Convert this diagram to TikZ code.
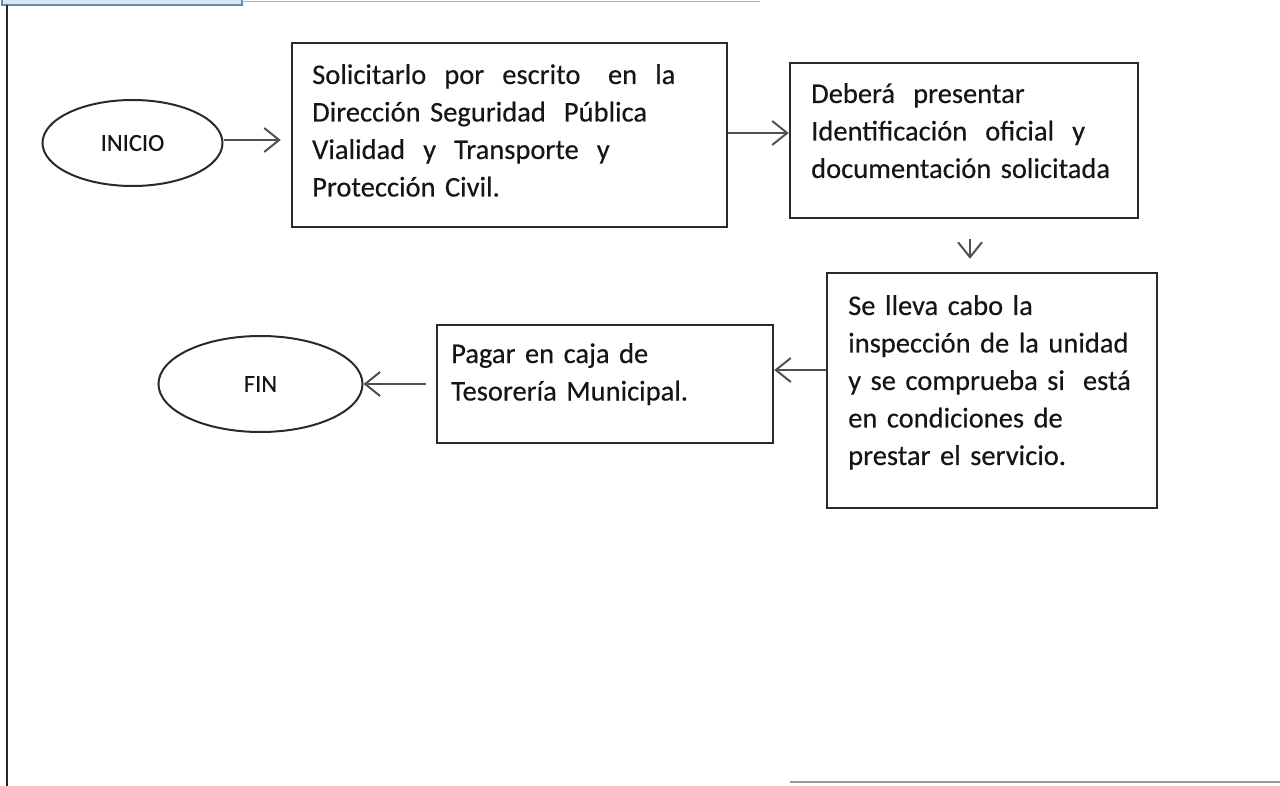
\documentclass[tikz,border=0pt]{standalone}
\usepackage{fontspec}
\setmainfont{Carlito}
\newfontfamily\scanfont{Carlito}[FakeBold=0.35]
\usetikzlibrary{arrows.meta,shapes.geometric}
\definecolor{boxline}{HTML}{2A2A2A}
\definecolor{arrline}{HTML}{505050}
\definecolor{txt}{HTML}{151515}
\definecolor{tabfill}{HTML}{D6E7F3}
\definecolor{tabline}{HTML}{6D8AA0}
\newcommand{\gapw}{\hspace{0.3em}}
\tikzset{
  stepbox/.style={draw=boxline, line width=2.4pt, rectangle, inner sep=0pt},
  termnode/.style={draw=boxline, line width=2pt, ellipse, inner sep=0pt, text=txt, font=\scanfont\fontsize{24.5}{28}\selectfont},
  boxtext/.style={anchor=base west, inner sep=0pt, text width=420pt, align=left, text=txt, font=\scanfont\fontsize{28.5}{37.5}\selectfont},
  arr/.style={draw=arrline, line width=2pt, -{Straight Barb[length=15pt, width=24pt, line width=2pt]}},
}
\begin{document}
\begin{tikzpicture}[x=1pt, y=-1pt]
\useasboundingbox (0,0) rectangle (1280,786);
% frame
\draw[fill=tabfill, draw=tabline, line width=1.5pt] (2,-6) rectangle (242,5);
\draw[draw=gray!60, line width=1.5pt] (242,1.5) -- (760,1.5);
\draw[draw=black!85, line width=2.5pt] (7,5) -- (7,786);
\draw[draw=gray!80, line width=2pt] (790,782) -- (1280,782);
% nodes
\node[termnode, minimum width=180pt, minimum height=86pt] (inicio) at (132.5,143) {INICIO};
\node[termnode, minimum width=204pt, minimum height=96pt] (fin) at (260.5,384) {FIN};
\node[stepbox, minimum width=435pt, minimum height=184pt] (b1) at (509.5,135) {};
\node[stepbox, minimum width=348pt, minimum height=155pt] (b2) at (964,140.5) {};
\node[stepbox, minimum width=330pt, minimum height=235pt] (b3) at (992,390.5) {};
\node[stepbox, minimum width=336pt, minimum height=118pt] (b4) at (605,384) {};
\node[boxtext] (t1) at (312,84) {Solicitarlo\ \gapw por\ \gapw escrito\ \ \gapw en\ \gapw la\\Dirección Seguridad\ \gapw Pública\\Vialidad\ \gapw y\ \gapw Transporte\ \gapw y\\Protección Civil.};
\node[boxtext] (t2) at (811,103) {Deberá\ \gapw presentar\\Identificación\ \gapw oficial\ \gapw y\\documentación solicitada};
\node[boxtext] (t3) at (848,315) {Se lleva cabo la\\inspección de la unidad\\y se comprueba si\ \gapw está\\en condiciones de\\prestar el servicio.};
\node[boxtext] (t4) at (451,363) {Pagar en caja de\\Tesorería Municipal.};
% connectors
\draw[arr, shorten >=10pt] ([yshift=3pt]inicio.east) -- ([yshift=3pt]inicio.east -| b1.west);
\draw[arr] ([yshift=2pt]b1.east) -- ([yshift=7.5pt]b2.west);
\draw[arr, shorten <=20pt, shorten >=13pt] ([xshift=6pt]b2.south) -- ([xshift=6pt]b2.south |- b3.north);
\draw[arr] ([yshift=20.5pt]b3.west) -- ([yshift=14pt]b4.east);
\draw[arr, shorten <=10pt] (b4.west) -- (fin.east);
\end{tikzpicture}
\end{document}
